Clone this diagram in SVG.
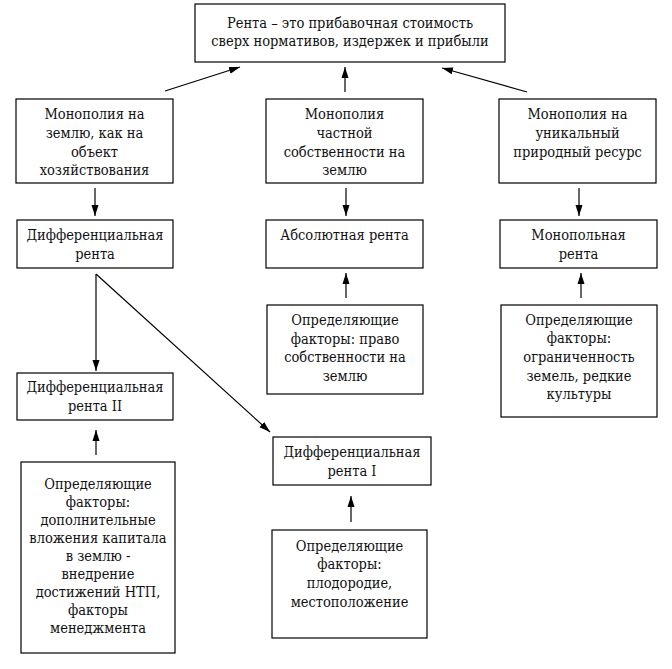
<svg xmlns="http://www.w3.org/2000/svg" width="672" height="669" viewBox="0 0 672 669">
<defs>
<style>
.box{fill:#fff;stroke:#000;stroke-width:1.2}
.t{font-family:"DejaVu Serif Condensed","DejaVu Serif","Liberation Serif",serif;font-size:14.5px;fill:#111;text-anchor:middle}
.c{stroke:#000;stroke-width:1.2;fill:none}
</style>
<marker id="ah" markerUnits="userSpaceOnUse" markerWidth="12" markerHeight="10" viewBox="0 0 12 10" refX="11" refY="5" orient="auto">
<path d="M0,1.5 L11,5 L0,8.5 z" fill="#000"/>
</marker>
</defs>
<rect width="672" height="669" fill="#fff"/>
<g id="connectors">
<line class="c" x1="165" y1="91" x2="240" y2="67" marker-end="url(#ah)"/>
<line class="c" x1="345" y1="92" x2="345" y2="67" marker-end="url(#ah)"/>
<line class="c" x1="527" y1="92" x2="442" y2="68" marker-end="url(#ah)"/>
<line class="c" x1="95" y1="188" x2="95" y2="216" marker-end="url(#ah)"/>
<line class="c" x1="346" y1="188" x2="346" y2="216" marker-end="url(#ah)"/>
<line class="c" x1="579" y1="188" x2="579" y2="216" marker-end="url(#ah)"/>
<line class="c" x1="346" y1="298" x2="346" y2="273" marker-end="url(#ah)"/>
<line class="c" x1="581" y1="298" x2="581" y2="273" marker-end="url(#ah)"/>
<line class="c" x1="96" y1="274" x2="96" y2="371" marker-end="url(#ah)"/>
<line class="c" x1="96" y1="274" x2="270" y2="432" marker-end="url(#ah)"/>
<line class="c" x1="96" y1="455" x2="96" y2="430" marker-end="url(#ah)"/>
<line class="c" x1="351" y1="522" x2="351" y2="496" marker-end="url(#ah)"/>
</g>
<g id="top">
<rect class="box" x="195" y="4" width="310" height="58"/>
<text class="t" x="350" y="28">Рента – это прибавочная стоимость</text>
<text class="t" x="350" y="46">сверх нормативов, издержек и прибыли</text>
</g>
<g id="mono-land">
<rect class="box" x="16" y="99" width="157" height="84"/>
<text class="t" x="94.5" y="119">Монополия на</text>
<text class="t" x="94.5" y="138">землю, как на</text>
<text class="t" x="94.5" y="157">объект</text>
<text class="t" x="94.5" y="175">хозяйствования</text>
</g>
<g id="mono-private">
<rect class="box" x="266" y="99" width="157" height="84"/>
<text class="t" x="344.5" y="119">Монополия</text>
<text class="t" x="344.5" y="138">частной</text>
<text class="t" x="344.5" y="157">собственности на</text>
<text class="t" x="344.5" y="175">землю</text>
</g>
<g id="mono-unique">
<rect class="box" x="499" y="99" width="157" height="84"/>
<text class="t" x="577.5" y="119">Монополия на</text>
<text class="t" x="577.5" y="138">уникальный</text>
<text class="t" x="577.5" y="157">природный ресурс</text>
</g>
<g id="diff-rent">
<rect class="box" x="17" y="220" width="156" height="48"/>
<text class="t" x="95" y="240">Дифференциальная</text>
<text class="t" x="95" y="259">рента</text>
</g>
<g id="abs-rent">
<rect class="box" x="266" y="220" width="157" height="48"/>
<text class="t" x="344.5" y="240">Абсолютная рента</text>
</g>
<g id="mono-rent">
<rect class="box" x="500" y="220" width="157" height="48"/>
<text class="t" x="578.5" y="240">Монопольная</text>
<text class="t" x="578.5" y="259">рента</text>
</g>
<g id="abs-factors">
<rect class="box" x="267" y="305" width="156" height="89"/>
<text class="t" x="345" y="325">Определяющие</text>
<text class="t" x="345" y="344">факторы: право</text>
<text class="t" x="345" y="362">собственности на</text>
<text class="t" x="345" y="381">землю</text>
</g>
<g id="mono-factors">
<rect class="box" x="501" y="305" width="156" height="112"/>
<text class="t" x="579" y="325">Определяющие</text>
<text class="t" x="579" y="343">факторы:</text>
<text class="t" x="579" y="362">ограниченность</text>
<text class="t" x="579" y="381">земель, редкие</text>
<text class="t" x="579" y="399">культуры</text>
</g>
<g id="diff-rent-2">
<rect class="box" x="17" y="373" width="156" height="47"/>
<text class="t" x="95" y="392">Дифференциальная</text>
<text class="t" x="95" y="411">рента II</text>
</g>
<g id="diff2-factors">
<rect class="box" x="21" y="462" width="154" height="191"/>
<text class="t" x="98" y="489">Определяющие</text>
<text class="t" x="98" y="507">факторы:</text>
<text class="t" x="98" y="525">дополнительные</text>
<text class="t" x="98" y="543">вложения капитала</text>
<text class="t" x="98" y="561">в землю -</text>
<text class="t" x="98" y="579">внедрение</text>
<text class="t" x="98" y="597">достижений НТП,</text>
<text class="t" x="98" y="615">факторы</text>
<text class="t" x="98" y="633">менеджмента</text>
</g>
<g id="diff-rent-1">
<rect class="box" x="273" y="437" width="158" height="48"/>
<text class="t" x="352" y="457">Дифференциальная</text>
<text class="t" x="352" y="476">рента I</text>
</g>
<g id="diff1-factors">
<rect class="box" x="272" y="530" width="155" height="108"/>
<text class="t" x="349.5" y="551">Определяющие</text>
<text class="t" x="349.5" y="569">факторы:</text>
<text class="t" x="349.5" y="588">плодородие,</text>
<text class="t" x="349.5" y="607">местоположение</text>
</g>
</svg>
